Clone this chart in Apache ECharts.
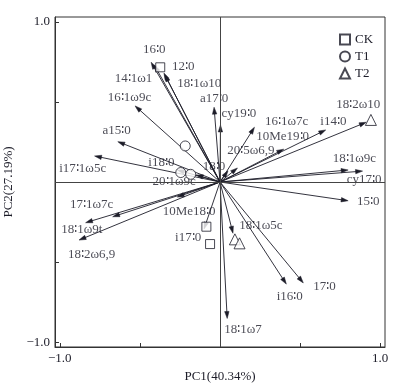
<!DOCTYPE html>
<html><head><meta charset="utf-8">
<script src="https://cdn.jsdelivr.net/npm/echarts@6/dist/echarts.min.js"></script>
<style>html,body{margin:0;padding:0;background:#fff}#c{width:411px;height:385px}</style>
</head><body><div id="c"></div>
<script>
// Variable (fatty acid) loadings
const varNames = ['16∶0','14∶1ω1','12∶0','18∶1ω10','16∶1ω9c','a17∶0','cy19∶0','16∶1ω7c','i14∶0','18∶2ω10',
  '10Me19∶0','20∶5ω6,9','18∶0','18∶1ω9c','cy17∶0','15∶0','a15∶0','i17∶1ω5c','i18∶0','20∶1ω9c',
  '17∶1ω7c','18∶1ω9t','18∶2ω6,9','10Me18∶0','i17∶0','18∶1ω5c','i16∶0','17∶0','18∶1ω7'];
const pc1 = [-0.43,-0.41,-0.35,-0.345,-0.53,-0.037,0.003,0.215,0.66,0.913,
  0.398,0.109,0.05,0.80,0.89,0.80,-0.638,-0.783,-0.267,-0.149,
  -0.67,-0.839,-0.88,-0.267,-0.10,0.081,0.414,0.52,0.045];
const pc2 = [0.748,0.73,0.68,0.67,0.475,0.467,0.356,0.342,0.325,0.373,
  0.205,0.0875,0.07,0.075,0.068,-0.117,0.252,0.1625,0.075,0.044,
  -0.217,-0.254,-0.3625,-0.094,-0.294,-0.32,-0.6375,-0.63,-0.852];
// label anchor points (data units)
const labelPC1 = [-0.41,-0.54,-0.23,-0.13,-0.565,-0.037,0.118,0.416,0.708,0.863,
  0.391,0.193,-0.037,0.839,0.90,0.925,-0.646,-0.857,-0.366,-0.286,
  -0.801,-0.863,-0.801,-0.193,-0.199,0.255,0.435,0.652,0.143];
const labelPC2 = [0.825,0.644,0.719,0.6125,0.525,0.519,0.425,0.375,0.375,0.481,
  0.281,0.194,0.094,0.144,0.0125,-0.125,0.319,0.081,0.119,0.0,
  -0.144,-0.3,-0.456,-0.1875,-0.35,-0.269,-0.7125,-0.65,-0.919];
// Sample scores
const ckPC1 = [-0.373,-0.085,-0.062];
const ckPC2 = [0.716,-0.279,-0.3875];
const t1PC1 = [-0.217,-0.245,-0.183];
const t1PC2 = [0.225,0.059,0.048];
const t2PC1 = [0.942,0.093,0.122];
const t2PC2 = [0.3875,-0.358,-0.383];
const groupNames = ['CK','T1','T2'];
const tickValues = [-1,-0.5,0,0.5,1];
const labelValues = [-1,1];

const FONT = 'Liberation Serif';
const INK = '#1c1c28';
const chart = echarts.init(document.getElementById('c'), null, {renderer:'canvas'});
const zip = (a,b) => a.map((v,i)=>[v,b[i]]);
const markerStyle = {color:'#fff', borderColor:INK, borderWidth:1};
const fmt = v => (v < 0 ? '−' : '') + Math.abs(v).toFixed(1);

chart.setOption({
  animation:false,
  backgroundColor:'#fff',
  grid:{left:55, top:17, width:330, height:330, show:true, borderColor:'#333', borderWidth:1, outerBoundsMode:'none'},
  legend:{
    data:groupNames, orient:'vertical', left:334, top:28, itemWidth:10, itemHeight:10, itemGap:4,
    textStyle:{fontFamily:FONT, fontSize:13, color:INK}
  },
  xAxis:{
    type:'value', min:-1.03, max:1.03, position:'bottom',
    name:'PC1(40.34%)', nameLocation:'middle', nameGap:15,
    nameTextStyle:{fontFamily:FONT, fontSize:13, color:INK},
    axisLine:{show:true, onZero:false, lineStyle:{color:'#333', width:1}},
    axisTick:{show:true, inside:true, length:4, customValues:tickValues, lineStyle:{color:'#333'}},
    axisLabel:{show:true, customValues:labelValues, formatter:fmt, margin:5, fontFamily:FONT, fontSize:13, color:INK},
    splitLine:{show:false}
  },
  yAxis:{
    type:'value', min:-1.03, max:1.03, position:'left',
    name:'PC2(27.19%)', nameLocation:'middle', nameGap:30, nameRotate:90,
    nameTextStyle:{fontFamily:FONT, fontSize:13, color:INK},
    axisLine:{show:true, onZero:false, lineStyle:{color:'#333', width:1}},
    axisTick:{show:true, inside:true, length:4, customValues:tickValues, lineStyle:{color:'#333'}},
    axisLabel:{show:true, customValues:labelValues, formatter:fmt, margin:5, fontFamily:FONT, fontSize:13, color:INK},
    splitLine:{show:false}
  },
  series:[
    {
      type:'custom', name:'loadings', z:2, silent:true,
      data:zip(pc1,pc2),
      encode:{x:0, y:1},
      markLine:{
        silent:true, symbol:'none', label:{show:false},
        lineStyle:{color:'#444', width:1, type:'solid'},
        data:[{xAxis:0},{yAxis:0}]
      },
      renderItem:function(params, api){
        const o = api.coord([0,0]);
        const t = api.coord([api.value(0), api.value(1)]);
        const dx = t[0]-o[0], dy = t[1]-o[1];
        const len = Math.sqrt(dx*dx+dy*dy) || 1;
        const ux = dx/len, uy = dy/len;
        const L = 7, W = 2.2;
        const bx = t[0]-ux*L, by = t[1]-uy*L;
        return {
          type:'group',
          children:[
            {type:'line', shape:{x1:o[0], y1:o[1], x2:bx+ux*2, y2:by+uy*2}, style:{stroke:INK, lineWidth:0.9}},
            {type:'polygon', shape:{points:[[t[0],t[1]],[bx-uy*W, by+ux*W],[bx+uy*W, by-ux*W]]}, style:{fill:INK, stroke:INK, lineWidth:0.5}}
          ]
        };
      }
    },
    {
      type:'scatter', name:'labels', z:3, silent:true,
      symbolSize:1, itemStyle:{color:'rgba(0,0,0,0)'},
      data:varNames.map((n,i)=>({name:n, value:[labelPC1[i], labelPC2[i]]})),
      label:{show:true, position:'inside', formatter:p=>p.name, fontFamily:FONT, fontSize:13, color:INK}
    },
    {type:'scatter', name:'CK', symbol:'rect', symbolSize:9, z:4, itemStyle:markerStyle, data:zip(ckPC1,ckPC2)},
    {type:'scatter', name:'T1', symbol:'circle', symbolSize:10, z:4, itemStyle:markerStyle, data:zip(t1PC1,t1PC2)},
    {type:'scatter', name:'T2', symbol:'triangle', symbolSize:11, z:4, itemStyle:markerStyle, data:zip(t2PC1,t2PC2)}
  ]
});
</script></body></html>
